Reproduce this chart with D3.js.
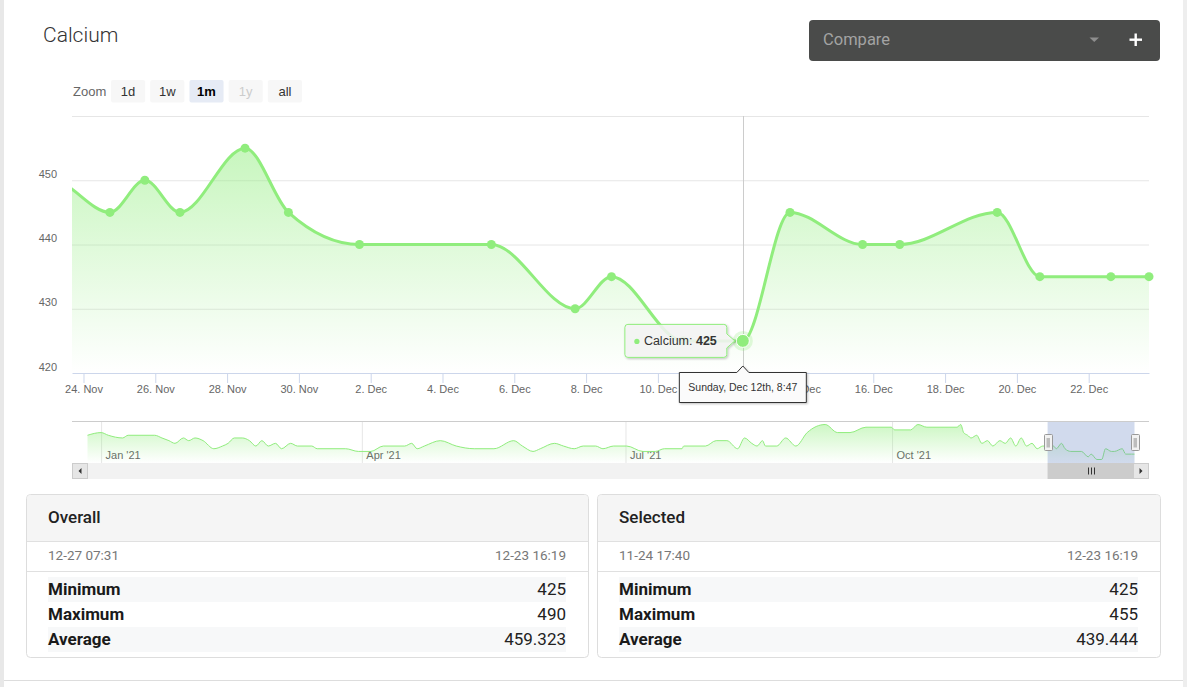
<!DOCTYPE html>
<html><head><meta charset="utf-8">
<script src="https://cdn.jsdelivr.net/npm/d3@7"></script>
<style>
html,body{margin:0;padding:0;background:#fff;overflow:hidden;}
svg{display:block;}
</style></head><body>
<svg id="c" width="1187" height="687"></svg>
<script>
// ---------------- DATA ----------------
const seriesName = "Calcium";
// navigator (history) readings, Dec 2020 - Nov 2021
const navDates = ["2020-12-27T07:31","2021-01-01T00:00","2021-01-03T12:00","2021-01-08T10:00","2021-01-10T08:00","2021-01-19T12:00","2021-01-22T00:00","2021-01-24T10:00","2021-01-26T12:00","2021-01-29T10:00","2021-01-31T06:00","2021-02-02T10:00","2021-02-05T05:00","2021-02-08T22:00","2021-02-11T22:00","2021-02-13T20:00","2021-02-16T00:00","2021-02-18T17:00","2021-02-21T05:00","2021-02-23T10:00","2021-02-25T12:00","2021-02-27T17:00","2021-03-02T05:00","2021-03-04T07:00","2021-03-07T10:00","2021-03-09T19:00","2021-03-14T17:00","2021-03-16T14:00","2021-03-26T10:00","2021-03-30T19:00","2021-04-04T02:00","2021-04-08T10:00","2021-04-15T19:00","2021-04-18T05:00","2021-04-20T02:00","2021-04-22T14:00","2021-04-28T02:00","2021-05-03T14:00","2021-05-09T19:00","2021-05-16T14:00","2021-05-23T10:00","2021-05-26T10:00","2021-05-30T02:00","2021-06-01T14:00","2021-06-06T12:00","2021-06-09T14:00","2021-06-13T07:00","2021-06-16T10:00","2021-06-20T17:00","2021-06-23T05:00","2021-06-26T22:00","2021-07-01T10:00","2021-07-07T00:00","2021-07-11T07:00","2021-07-14T10:00","2021-07-20T12:00","2021-07-21T02:00","2021-07-28T14:00","2021-08-01T07:00","2021-08-05T00:00","2021-08-08T17:00","2021-08-11T02:00","2021-08-13T14:00","2021-08-15T10:00","2021-08-17T07:00","2021-08-18T07:00","2021-08-22T05:00","2021-08-25T07:00","2021-08-28T19:00","2021-09-01T17:00","2021-09-07T22:00","2021-09-12T05:00","2021-09-16T12:00","2021-09-22T00:00","2021-09-30T17:00","2021-10-01T22:00","2021-10-07T10:00","2021-10-09T22:00","2021-10-13T00:00","2021-10-23T10:00","2021-10-24T17:00","2021-10-25T17:00","2021-10-27T02:00","2021-10-28T07:00","2021-10-30T05:00","2021-11-01T00:00","2021-11-02T22:00","2021-11-04T19:00","2021-11-07T05:00","2021-11-09T02:00","2021-11-10T22:00","2021-11-12T17:00","2021-11-14T14:00","2021-11-16T10:00","2021-11-18T07:00","2021-11-20T02:00","2021-11-22T00:00","2021-11-23T03:00"];
const navValues = [470,475,470,465,470,470,465,460,455,465,460,465,460,445,450,455,465,465,460,450,460,450,455,445,455,450,450,445,445,440,440,450,450,455,445,450,460,450,445,445,460,450,440,445,455,450,445,450,450,445,450,450,440,440,445,445,450,450,460,460,445,465,455,450,460,450,450,465,450,475,490,475,475,485,485,480,480,490,485,485,490,475,470,465,470,455,460,450,460,455,465,450,465,450,455,445,450,450];
// selected month readings
const mainDates = ["2021-11-24T17:40","2021-11-25T17:00","2021-11-26T16:30","2021-11-28T12:00","2021-11-29T17:00","2021-12-01T16:30","2021-12-05T08:40","2021-12-07T16:40","2021-12-08T17:00","2021-12-10T17:00","2021-12-12T08:47","2021-12-13T16:19","2021-12-15T16:50","2021-12-16T17:40","2021-12-19T10:50","2021-12-20T15:20","2021-12-22T14:50","2021-12-23T16:19"];
const mainValues = [445,450,445,455,445,440,440,430,435,425,425,445,440,440,445,435,435,435];
const viewRange = ["2021-11-23T16:19","2021-12-23T16:19"];
const hoverDate = "2021-12-12T08:47";
const yTicks = [420,430,440,450,460];
const navTickDates = ["2021-01-01T00:00","2021-04-01T00:00","2021-07-01T00:00","2021-10-01T00:00"];
const zoomButtons = ["1d","1w","1m","1y","all"];
const zoomSelected = "1m";
const zoomDisabled = ["1y"];
const statTitles = ["Overall","Selected"];
const statStart = ["12-27 07:31","11-24 17:40"];
const statEnd = ["12-23 16:19","12-23 16:19"];
const statLabels = ["Minimum","Maximum","Average"];
const overallStats = ["425","490","459.323"];
const selectedStats = ["425","455","439.444"];

// ---------------- SETUP ----------------
const COLOR = "#90ed7d";
const fChart = "'Liberation Sans', Arial, Helvetica, sans-serif";
const fUI = "Roboto, 'Noto Sans', sans-serif";
const parse = d3.utcParse("%Y-%m-%dT%H:%M");
const navData = navDates.map((d,i)=>({t:parse(d), v:navValues[i]}));
const mainData = mainDates.map((d,i)=>({t:parse(d), v:mainValues[i]}));
const allData = navData.concat(mainData);
const viewStart = parse(viewRange[0]), viewEnd = parse(viewRange[1]);

const svg = d3.select("#c");
const defs = svg.append("defs");

// page frame
svg.append("rect").attr("x",0).attr("y",0).attr("width",4).attr("height",687).attr("fill","#e8e8e8");
svg.append("rect").attr("x",1183).attr("y",0).attr("width",4).attr("height",687).attr("fill","#eeeeee");
svg.append("line").attr("x1",4).attr("x2",1183).attr("y1",680.5).attr("y2",680.5).attr("stroke","#dddddd");

// shadow filter
const sh = defs.append("filter").attr("id","shadow").attr("x","-20%").attr("y","-20%").attr("width","140%").attr("height","160%");
sh.append("feDropShadow").attr("dx",1).attr("dy",1).attr("stdDeviation",1.2).attr("flood-color","#000").attr("flood-opacity",0.25);

// title
svg.append("text").attr("x",43).attr("y",42).text(seriesName)
  .style("font-family",fUI).style("font-weight",300).style("font-size","21px").attr("fill","#333");

// compare box
svg.append("rect").attr("x",809).attr("y",20).attr("width",351).attr("height",41).attr("rx",4).attr("fill","#4a4b4a");
svg.append("text").attr("x",823).attr("y",45).text("Compare")
  .style("font-family",fUI).style("font-size","16.5px").attr("fill","#a3a3a3");
svg.append("path").attr("d","M1089.5,37.5 L1099,37.5 L1094.25,42 Z").attr("fill","#8e8e8e");
svg.append("rect").attr("x",1129.5).attr("y",38.5).attr("width",12.5).attr("height",2.4).attr("fill","#fff");
svg.append("rect").attr("x",1134.5).attr("y",33.5).attr("width",2.4).attr("height",12.5).attr("fill","#fff");

// zoom buttons
svg.append("text").attr("x",73).attr("y",96).text("Zoom")
  .style("font-family",fChart).style("font-size","13px").attr("fill","#666");
const bx = d3.scaleBand().domain(zoomButtons).range([111, 302]).paddingInner(0.13).paddingOuter(0);
const zb = svg.append("g").selectAll("g").data(zoomButtons).join("g");
zb.append("rect").attr("x",d=>bx(d)).attr("y",80).attr("width",bx.bandwidth()).attr("height",22.5).attr("rx",2)
  .attr("fill",d=>d===zoomSelected?"#e6ebf5":"#f7f7f7");
zb.append("text").attr("x",d=>bx(d)+bx.bandwidth()/2).attr("y",96).attr("text-anchor","middle").text(d=>d)
  .style("font-family",fChart).style("font-size","13px")
  .style("font-weight",d=>d===zoomSelected?"bold":"normal")
  .attr("fill",d=>d===zoomSelected?"#000":(zoomDisabled.includes(d)?"#cccccc":"#333"));

// ---------------- MAIN CHART ----------------
const plot = {l:72, r:1149, t:116, b:373};
const x = d3.scaleUtc().domain([viewStart, viewEnd]).range([plot.l, plot.r]);
const y = d3.scaleLinear().domain([yTicks[0], yTicks[yTicks.length-1]]).range([plot.b, plot.t]);

defs.append("clipPath").attr("id","clipMain").append("rect")
  .attr("x",plot.l).attr("y",0).attr("width",plot.r-plot.l).attr("height",plot.b);

const visible = allData.filter(d=>d.t>=viewStart && d.t<=viewEnd);
const firstIdx = allData.findIndex(d=>d.t>=viewStart);
const pathData = allData.slice(Math.max(0, firstIdx-2));

const gm = defs.append("linearGradient").attr("id","gMain").attr("gradientUnits","userSpaceOnUse")
  .attr("x1",0).attr("x2",0).attr("y1",y(d3.max(visible,d=>d.v))).attr("y2",plot.b);
gm.append("stop").attr("offset",0).attr("stop-color",COLOR).attr("stop-opacity",0.5);
gm.append("stop").attr("offset",1).attr("stop-color",COLOR).attr("stop-opacity",0);

// y grid + labels
const gy = svg.append("g").attr("transform",`translate(${plot.l},0)`)
  .call(d3.axisLeft(y).tickValues(yTicks).tickSize(-(plot.r-plot.l)).tickPadding(15)
    .tickFormat(d=> d===yTicks[yTicks.length-1] ? "" : d3.format("d")(d)));
gy.select(".domain").remove();
gy.selectAll(".tick line").attr("stroke",d=>d===yTicks[0]?"none":"#e6e6e6");
gy.selectAll(".tick text").attr("dy",-3).attr("fill","#666")
  .style("font-family",fChart).style("font-size","11px");

// hover
const hp = mainData.find(d=>+d.t===+parse(hoverDate));
const px = x(hp.t), py = y(hp.v);

// crosshair
svg.append("line").attr("x1",Math.round(px)+0.5).attr("x2",Math.round(px)+0.5)
  .attr("y1",plot.t).attr("y2",plot.b).attr("stroke","#cccccc");

// area + line
const area = d3.area().x(d=>x(d.t)).y0(plot.b).y1(d=>y(d.v)).curve(d3.curveMonotoneX);
const line = d3.line().x(d=>x(d.t)).y(d=>y(d.v)).curve(d3.curveMonotoneX);
const gs = svg.append("g").attr("clip-path","url(#clipMain)");
gs.append("path").datum(pathData).attr("d",area).attr("fill","url(#gMain)");
gs.append("path").datum(pathData).attr("d",line).attr("fill","none").attr("stroke",COLOR)
  .attr("stroke-width",3).attr("stroke-linejoin","round").attr("stroke-linecap","round");

// markers
svg.append("g").selectAll("circle").data(visible).join("circle")
  .attr("cx",d=>x(d.t)).attr("cy",d=>y(d.v)).attr("r",4.5).attr("fill",COLOR);

// x axis
const xTicks = d3.utcDay.range(d3.utcDay.ceil(viewStart), viewEnd, 2);
const gx = svg.append("g").attr("transform",`translate(0,${plot.b})`)
  .call(d3.axisBottom(x).tickValues(xTicks).tickSize(10).tickSizeOuter(0).tickFormat(d3.utcFormat("%-d. %b")));
gx.select(".domain").attr("stroke","#ccd6eb");
gx.selectAll(".tick line").attr("stroke","#ccd6eb");
gx.selectAll(".tick text").attr("y",20).attr("dy",0).attr("fill","#666")
  .style("font-family",fChart).style("font-size","11px");

// hover marker
svg.append("circle").attr("cx",px).attr("cy",py).attr("r",10).attr("fill",COLOR).attr("opacity",0.25);
svg.append("circle").attr("cx",px).attr("cy",py).attr("r",6.5).attr("fill",COLOR).attr("stroke","#fff").attr("stroke-width",1);

// series tooltip
const tg = svg.append("g");
const tBoxR = px - 16, tTop = py - 16.5, tBot = py + 16.5;
const tBg = tg.append("path");
const tt = tg.append("text").attr("y",py+4.5).attr("text-anchor","end").attr("x",tBoxR-10)
  .style("font-family",fChart).style("font-size","12.5px").attr("fill","#333");
tt.append("tspan").text(seriesName + ": ");
tt.append("tspan").style("font-weight","bold").text(hp.v);
const tw = tt.node().getComputedTextLength();
const tTextL = tBoxR - 10 - tw;
tg.append("circle").attr("cx",tTextL-7).attr("cy",py+0.5).attr("r",2.6).attr("fill",COLOR);
const tBoxL = tTextL - 19;
tBg.attr("d",`M${tBoxL+3},${tTop} H${tBoxR-3} Q${tBoxR},${tTop} ${tBoxR},${tTop+3} V${py-7} L${tBoxR+8},${py} L${tBoxR},${py+7} V${tBot-3} Q${tBoxR},${tBot} ${tBoxR-3},${tBot} H${tBoxL+3} Q${tBoxL},${tBot} ${tBoxL},${tBot-3} V${tTop+3} Q${tBoxL},${tTop} ${tBoxL+3},${tTop} Z`)
  .attr("fill","rgba(247,247,247,0.85)").attr("stroke",COLOR).attr("stroke-width",1).attr("filter","url(#shadow)");

// date crosshair label
const ordinal = n => n + ((n%100>=11 && n%100<=13) ? "th" : ({1:"st",2:"nd",3:"rd"}[n%10] || "th"));
const dateLabel = d3.utcFormat("%A, %b ")(hp.t) + ordinal(hp.t.getUTCDate()) + ", " + d3.utcFormat("%-H:%M")(hp.t);
const dg = svg.append("g");
const dBg = dg.append("path");
const dt = dg.append("text").attr("x",px).attr("y",391).attr("text-anchor","middle").text(dateLabel)
  .style("font-family",fChart).style("font-size","10.5px").attr("fill","#333");
const dw = dt.node().getComputedTextLength();
const dL = px - dw/2 - 9, dR = px + dw/2 + 9, dT = 372.5, dB = 402.5;
dBg.attr("d",`M${dL},${dT} H${px-6} L${px},${dT-6.5} L${px+6},${dT} H${dR} V${dB} H${dL} Z`)
  .attr("fill","#fbfbfb").attr("stroke","#333").attr("stroke-width",1).attr("filter","url(#shadow)");

// ---------------- NAVIGATOR ----------------
const nav = {l:72, r:1149, t:421, b:463};
const xn = d3.scaleUtc().domain(d3.extent(allData,d=>d.t)).range([87.5, 1134.5]);
const ext = d3.extent(allData,d=>d.v), span = ext[1]-ext[0];
const yn = d3.scaleLinear().domain([ext[0]-0.1*span, ext[1]+0.1*span]).range([nav.b, nav.t]);

defs.append("clipPath").attr("id","clipNav").append("rect")
  .attr("x",nav.l).attr("y",nav.t).attr("width",nav.r-nav.l).attr("height",nav.b-nav.t);
const gn = defs.append("linearGradient").attr("id","gNav").attr("gradientUnits","userSpaceOnUse")
  .attr("x1",0).attr("x2",0).attr("y1",yn(ext[1])).attr("y2",nav.b);
gn.append("stop").attr("offset",0).attr("stop-color",COLOR).attr("stop-opacity",0.45);
gn.append("stop").attr("offset",1).attr("stop-color",COLOR).attr("stop-opacity",0);

// nav grid + labels
const gnx = svg.append("g").attr("transform",`translate(0,${nav.b})`)
  .call(d3.axisBottom(xn).tickValues(navTickDates.map(parse)).tickSize(-(nav.b-nav.t)).tickSizeOuter(0)
    .tickFormat(d3.utcFormat("%b '%y")));
gnx.select(".domain").remove();
gnx.selectAll(".tick line").attr("stroke","#e6e6e6");
gnx.selectAll(".tick text").attr("x",4).attr("y",-4.5).attr("dy",0).attr("text-anchor","start")
  .attr("fill","#666").style("font-family",fChart).style("font-size","11px");

const areaN = d3.area().x(d=>xn(d.t)).y0(nav.b).y1(d=>yn(d.v)).curve(d3.curveMonotoneX);
const lineN = d3.line().x(d=>xn(d.t)).y(d=>yn(d.v)).curve(d3.curveMonotoneX);
const gns = svg.append("g").attr("clip-path","url(#clipNav)");
gns.append("path").datum(allData).attr("d",areaN).attr("fill","url(#gNav)");
gns.append("path").datum(allData).attr("d",lineN).attr("fill","none").attr("stroke",COLOR).attr("stroke-width",1);

// mask
const m0 = xn(viewStart), m1 = xn(viewEnd);
svg.append("rect").attr("x",m0).attr("y",nav.t).attr("width",m1-m0).attr("height",nav.b-nav.t)
  .attr("fill","rgba(102,133,194,0.3)");
// outline
svg.append("line").attr("x1",nav.l).attr("x2",nav.r).attr("y1",nav.t+0.5).attr("y2",nav.t+0.5).attr("stroke","#cccccc");

// scrollbar
const sb = {y:463, h:16};
svg.append("rect").attr("x",nav.l).attr("y",sb.y).attr("width",nav.r-nav.l).attr("height",sb.h).attr("fill","#f2f2f2");
svg.append("rect").attr("x",m0).attr("y",sb.y).attr("width",m1-m0).attr("height",sb.h).attr("fill","#cccccc");
const mc = Math.round((m0+m1)/2);
[-3,0,3].forEach(o=>svg.append("line").attr("x1",mc+o+0.5).attr("x2",mc+o+0.5)
  .attr("y1",sb.y+4.5).attr("y2",sb.y+11.5).attr("stroke","#333"));
[[nav.l+0.5, -1],[nav.r-15.5, 1]].forEach(([bxp,dir])=>{
  svg.append("rect").attr("x",bxp).attr("y",sb.y+0.5).attr("width",15).attr("height",sb.h-1)
    .attr("fill","#e6e6e6").attr("stroke","#cccccc");
  const cx = bxp+7.5, cy = sb.y+8;
  svg.append("path").attr("d", dir<0 ? `M${cx+1.5},${cy-3} L${cx-1.5},${cy} L${cx+1.5},${cy+3} Z` : `M${cx-1.5},${cy-3} L${cx+1.5},${cy} L${cx-1.5},${cy+3} Z`)
    .attr("fill","#333");
});

// handles
[m0,m1].forEach(hx=>{
  const c = Math.round(hx);
  svg.append("rect").attr("x",c-4+0.5).attr("y",434.5).attr("width",8).attr("height",16).attr("rx",1)
    .attr("fill","#f2f2f2").attr("stroke","#999999");
  svg.append("rect").attr("x",c-1.5).attr("y",438).attr("width",3.5).attr("height",9.5).attr("fill","#bdbdbd");
});

// ---------------- STAT CARDS ----------------
function card(x0, x1, i, vals){
  const g = svg.append("g");
  const top = 494.5, bot = 657.5, hb = 541.5, db = 571.5;
  g.append("rect").attr("x",x0+0.5).attr("y",top).attr("width",x1-x0).attr("height",bot-top).attr("rx",4)
    .attr("fill","#fff").attr("stroke","#dddddd");
  g.append("path").attr("d",`M${x0+1},${hb} V${top+4} Q${x0+1},${top+0.5} ${x0+5},${top+0.5} H${x1-4} Q${x1},${top+0.5} ${x1},${top+4} V${hb} Z`)
    .attr("fill","#f5f5f5");
  g.append("line").attr("x1",x0+1).attr("x2",x1).attr("y1",hb).attr("y2",hb).attr("stroke","#e0e0e0");
  g.append("line").attr("x1",x0+1).attr("x2",x1).attr("y1",db).attr("y2",db).attr("stroke","#e0e0e0");
  const L = x0+22, R = x1-22;
  g.append("text").attr("x",L).attr("y",523).text(statTitles[i])
    .style("font-family",fUI).style("font-weight",500).style("font-size","17px").attr("fill","#222");
  g.append("text").attr("x",L).attr("y",560).text(statStart[i])
    .style("font-family",fUI).style("font-size","13.5px").attr("fill","#777");
  g.append("text").attr("x",R).attr("y",560).attr("text-anchor","end").text(statEnd[i])
    .style("font-family",fUI).style("font-size","13.5px").attr("fill","#777");
  const rowY = [577, 602, 627];
  statLabels.forEach((lab,k)=>{
    if(k%2===0) g.append("rect").attr("x",L).attr("y",rowY[k]).attr("width",R-L).attr("height",25).attr("fill","#f7f8f9");
    g.append("text").attr("x",L).attr("y",rowY[k]+17.5).text(lab)
      .style("font-family",fUI).style("font-weight",700).style("font-size","17px").attr("fill","#1a1a1a");
    g.append("text").attr("x",R).attr("y",rowY[k]+17.5).attr("text-anchor","end").text(vals[k])
      .style("font-family",fUI).style("font-size","17px").attr("fill","#222");
  });
}
card(26, 588, 0, overallStats);
card(597, 1160, 1, selectedStats);
</script>
</body></html>
